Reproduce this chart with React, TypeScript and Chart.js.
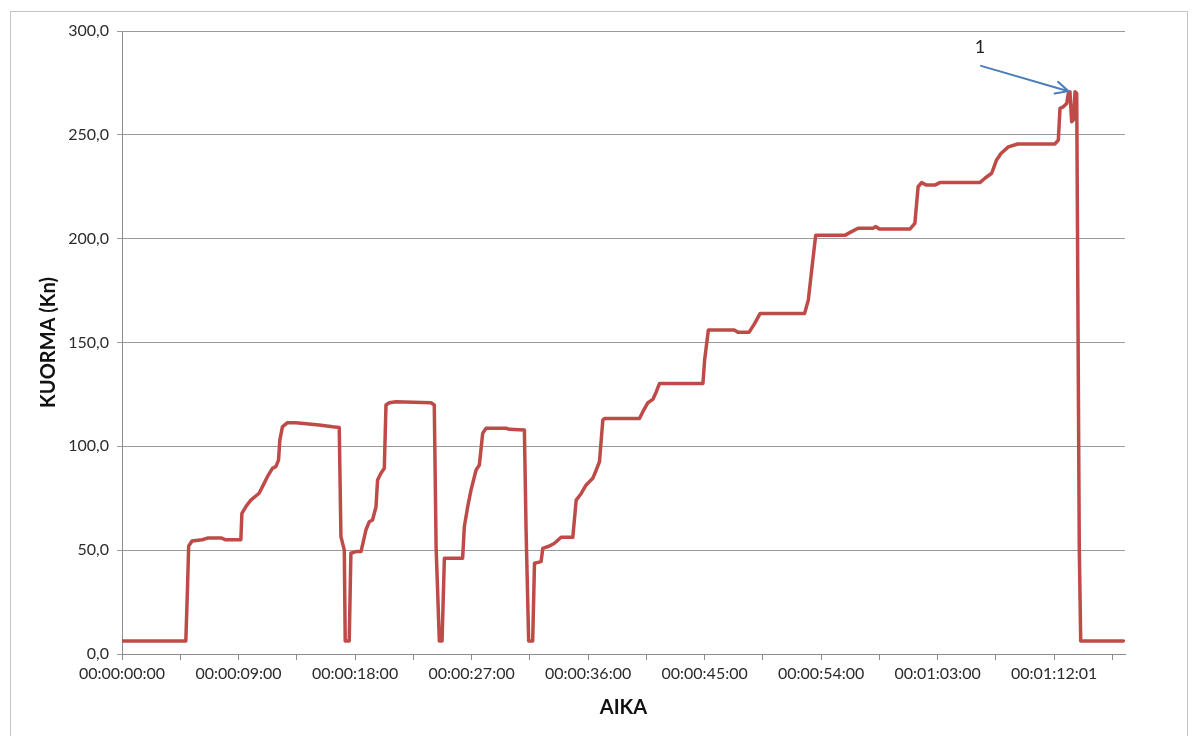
import React, { useEffect, useRef } from "react";
import { Chart, registerables } from "chart.js";

Chart.register(...registerables);

// Time in minutes since start
const TIME_MIN: number[] = [
  0, 4.93, 5.05, 5.15, 5.41, 6.2, 6.6, 7.7, 8.0, 9.18,
  9.26, 9.56, 9.95, 10.59, 10.85, 11.23, 11.62, 11.88, 12.09, 12.19,
  12.39, 12.78, 13.43, 15.23, 16.26, 16.78, 16.91, 17.17, 17.24, 17.55,
  17.68, 18.07, 18.46, 18.84, 19.1, 19.35, 19.62, 19.74, 20.0, 20.26,
  20.39, 20.64, 21.16, 23.87, 24.12, 24.26, 24.51, 24.72, 24.9, 26.31,
  26.44, 26.7, 26.96, 27.35, 27.6, 27.86, 28.12, 29.67, 29.92, 31.08,
  31.21, 31.41, 31.72, 31.86, 32.37, 32.5, 33.02, 33.4, 33.92, 34.82,
  35.08, 35.47, 35.85, 36.36, 36.63, 36.88, 37.14, 37.27, 39.97, 40.23,
  40.62, 41.0, 41.27, 41.52, 44.87, 45.0, 45.29, 47.29, 47.57, 48.43,
  48.87, 49.29, 52.72, 53.01, 53.3, 53.58, 55.87, 56.21, 56.85, 58.01,
  58.2, 58.53, 60.85, 61.24, 61.49, 61.76, 62.14, 62.78, 63.17, 66.26,
  66.65, 67.17, 67.55, 67.89, 68.46, 69.18, 72.06, 72.32, 72.45, 72.7,
  72.97, 73.09, 73.22, 73.35, 73.48, 73.61, 73.74, 73.94, 74.05, 77.34,
];

// Load (kN)
const LOAD_KN: number[] = [
  6.3, 6.3, 30, 52, 54.4, 55, 55.8, 55.8, 55, 55,
  67.7, 70.9, 74.1, 77.4, 80.6, 85.4, 89.4, 90.2, 93.4, 103,
  109.4, 111.4, 111.4, 110.3, 109.4, 109.1, 56.5, 50, 6.3, 6.3,
  48.5, 49.3, 49.3, 59.7, 63.7, 64.5, 70.9, 83.8, 87, 89.4,
  119.9, 121, 121.5, 121, 119.9, 51.7, 6.3, 6.3, 46.1, 46.1,
  61.3, 70.9, 79, 88.6, 91, 106.3, 108.7, 108.7, 108.2, 107.9,
  59.7, 6.3, 6.3, 43.7, 44.5, 50.9, 52, 53.3, 56.2, 56.2,
  74.1, 77.3, 81.4, 84.6, 88.6, 92.6, 112.7, 113.4, 113.4, 116.7,
  121, 122.6, 126.3, 130.3, 130.3, 141.5, 156, 156, 154.9, 154.9,
  159.2, 164, 164, 170.4, 186.5, 201.7, 201.7, 202.9, 205, 205,
  205.8, 204.6, 204.6, 207.4, 225, 227, 225.8, 225.8, 227, 227,
  229.1, 231.5, 237.9, 241, 244.2, 245.6, 245.6, 247.5, 262.8, 263.5,
  265.1, 269.9, 270.7, 256.3, 257.1, 270.7, 269.9, 50.4, 6.3, 6.3,
];

const X_TICK_LABELS: string[] = [
  "00:00:00:00", "00:00:09:00", "00:00:18:00", "00:00:27:00", "00:00:36:00",
  "00:00:45:00", "00:00:54:00", "00:01:03:00", "00:01:12:01",
];
const X_TICK_STEP = 4.5; // minutes between tick marks (labels on every other)
const X_TICK_COUNT = 18;
const X_MAX = 77.47;

const Y_MIN = 0;
const Y_MAX = 300;
const Y_STEP = 50;

// Annotation "1" with arrow (data coordinates)
const ANNOT_TEXT = "1";
const ANNOT_TEXT_POS = { x: 66.26, y: 292 };
const ANNOT_ARROW_FROM = { x: 66.35, y: 283.2 };
const ANNOT_ARROW_TO = { x: 73.1, y: 271 };

const FONT = "Lato, 'Open Sans', sans-serif";

export default function App() {
  const canvasRef = useRef<HTMLCanvasElement | null>(null);

  useEffect(() => {
    const canvas = canvasRef.current;
    if (!canvas) return;

    const frame = {
      id: "outerFrame",
      beforeDraw(chart: any) {
        const ctx = chart.ctx;
        ctx.save();
        ctx.fillStyle = "#ffffff";
        ctx.fillRect(0, 0, chart.width, chart.height);
        ctx.strokeStyle = "#c4c4c4";
        ctx.lineWidth = 1;
        ctx.strokeRect(10.5, 11.5, 1177, 780);
        ctx.restore();
      },
    };

    const annotation = {
      id: "arrowAnnot",
      afterDatasetsDraw(chart: any) {
        const { ctx, scales } = chart;
        const x = scales.x;
        const y = scales.y;
        const x1 = x.getPixelForValue(ANNOT_ARROW_FROM.x);
        const y1 = y.getPixelForValue(ANNOT_ARROW_FROM.y);
        const x2 = x.getPixelForValue(ANNOT_ARROW_TO.x);
        const y2 = y.getPixelForValue(ANNOT_ARROW_TO.y);
        ctx.save();
        ctx.strokeStyle = "#4a7ebb";
        ctx.lineWidth = 2;
        ctx.lineCap = "round";
        ctx.beginPath();
        ctx.moveTo(x1, y1);
        ctx.lineTo(x2, y2);
        const ang = Math.atan2(y2 - y1, x2 - x1);
        const len = 14;
        const spread = 0.45;
        ctx.moveTo(x2 - len * Math.cos(ang - spread), y2 - len * Math.sin(ang - spread));
        ctx.lineTo(x2, y2);
        ctx.lineTo(x2 - len * Math.cos(ang + spread), y2 - len * Math.sin(ang + spread));
        ctx.stroke();
        ctx.fillStyle = "#222";
        ctx.font = `18px ${FONT}`;
        ctx.textAlign = "center";
        ctx.textBaseline = "middle";
        ctx.fillText(ANNOT_TEXT, x.getPixelForValue(ANNOT_TEXT_POS.x), y.getPixelForValue(ANNOT_TEXT_POS.y));
        ctx.restore();
      },
    };

    const points = TIME_MIN.map((t, i) => ({ x: t, y: LOAD_KN[i] }));

    const chart = new Chart(canvas, {
      type: "line",
      data: {
        datasets: [
          {
            data: points,
            borderColor: "#be4b48",
            borderWidth: 3.5,
            pointRadius: 0,
            tension: 0,
            borderJoinStyle: "round",
            borderCapStyle: "round",
          },
        ],
      },
      options: {
        animation: false,
        responsive: false,
        devicePixelRatio: 1,
        layout: { padding: { left: 0, right: 72, top: 31, bottom: 0 } },
        plugins: {
          legend: { display: false },
          tooltip: { enabled: false },
        },
        scales: {
          x: {
            type: "linear",
            min: 0,
            max: X_MAX,
            afterBuildTicks(scale: any) {
              const ticks = [];
              for (let i = 0; i < X_TICK_COUNT; i++) ticks.push({ value: i * X_TICK_STEP });
              scale.ticks = ticks;
            },
            afterFit(scale: any) {
              scale.height = 82;
            },
            ticks: {
              autoSkip: false,
              maxRotation: 0,
              minRotation: 0,
              padding: 4,
              color: "#2b2b2b",
              font: { family: FONT, size: 16 },
              callback: (_v: any, i: number) => (i % 2 === 0 ? X_TICK_LABELS[i / 2] ?? "" : ""),
            },
            grid: {
              drawOnChartArea: false,
              drawTicks: true,
              tickLength: 6,
              color: "#8c8c8c",
            },
            border: { display: true, color: "#8c8c8c", width: 1 },
            title: {
              display: true,
              text: "AIKA",
              color: "#111",
              font: { family: FONT, size: 20, weight: "bold" },
              padding: { top: 0, bottom: 16 },
            },
          },
          y: {
            type: "linear",
            min: Y_MIN,
            max: Y_MAX,
            afterFit(scale: any) {
              scale.width = 122;
            },
            ticks: {
              stepSize: Y_STEP,
              padding: 8,
              color: "#2b2b2b",
              font: { family: FONT, size: 16 },
              callback: (v: any) => Number(v).toFixed(1).replace(".", ","),
            },
            grid: {
              drawTicks: true,
              tickLength: 5,
              color: "#9a9a9a",
              lineWidth: 1,
            },
            border: { display: true, color: "#8c8c8c", width: 1 },
            title: {
              display: true,
              text: "KUORMA (Kn)",
              color: "#111",
              font: { family: FONT, size: 20, weight: "bold" },
              padding: { top: 37, bottom: 0 },
            },
          },
        },
      },
      plugins: [frame, annotation],
    } as any);

    return () => {
      chart.destroy();
    };
  }, []);

  return (
    <div style={{ position: "absolute", left: 0, top: 0, width: 1197, height: 736, background: "#fff" }}>
      <canvas ref={canvasRef} width={1197} height={736} style={{ display: "block", width: 1197, height: 736 }} />
    </div>
  );
}
